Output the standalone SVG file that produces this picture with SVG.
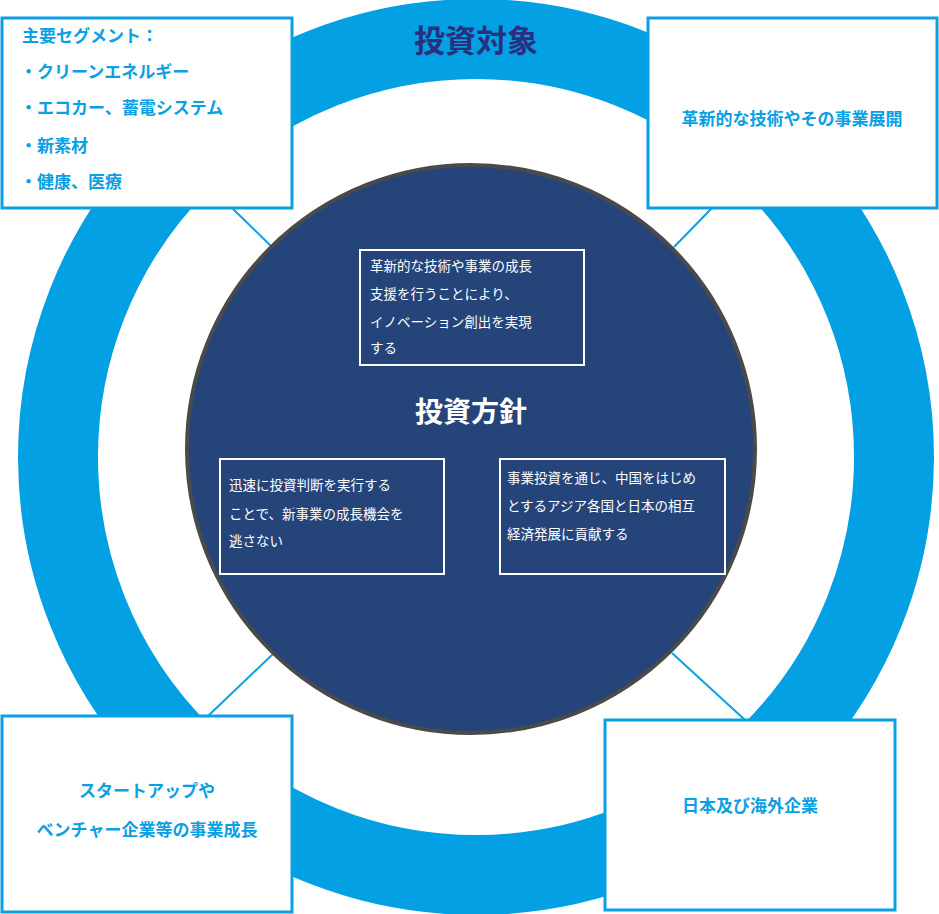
<svg xmlns="http://www.w3.org/2000/svg" width="939" height="914" viewBox="0 0 939 914">
<style>
.box{fill:#fff;stroke:#0aa0e3;stroke-width:3}
.ib{fill:none;stroke:#fff;stroke-width:2}
.bt{font-family:"Noto Sans CJK JP",sans-serif;font-size:17px;fill:#0aa0e3;font-weight:bold}
.it{font-family:"Noto Sans CJK JP",sans-serif;font-size:13.5px;fill:#fff}
.ln{stroke:#0aa0e3;stroke-width:2}
</style>
<rect width="939" height="914" fill="#fff"/>
<circle cx="476" cy="457" r="418" fill="none" stroke="#04a0e4" stroke-width="80"/>
<text x="476" y="52" text-anchor="middle" font-family="Noto Sans CJK JP,sans-serif" font-size="31" font-weight="bold" fill="#2a2f7f">投資対象</text>
<g id="connectors">
<line class="ln" x1="232" y1="208" x2="272" y2="247"/>
<line class="ln" x1="712" y1="208" x2="674" y2="247"/>
<line class="ln" x1="274" y1="653" x2="208" y2="716"/>
<line class="ln" x1="672" y1="653" x2="745" y2="720"/>
</g>
<g id="center">
<circle cx="471" cy="449" r="284" fill="#25457a" stroke="#4a4a4a" stroke-width="4"/>
<text x="471" y="422" text-anchor="middle" font-family="Noto Sans CJK JP,sans-serif" font-size="28" font-weight="bold" fill="#fff">投資方針</text>
</g>
<g id="p1"><rect class="ib" x="360" y="250" width="224" height="115"/>
<text class="it" x="370" y="271">革新的な技術や事業の成長</text>
<text class="it" x="370" y="299">支援を行うことにより、</text>
<text class="it" x="370" y="327">イノベーション創出を実現</text>
<text class="it" x="370" y="353">する</text></g>
<g id="p2"><rect class="ib" x="220" y="459" width="224" height="115"/>
<text class="it" x="229" y="490">迅速に投資判断を実行する</text>
<text class="it" x="229" y="519">ことで、新事業の成長機会を</text>
<text class="it" x="229" y="546">逃さない</text></g>
<g id="p3"><rect class="ib" x="500" y="459" width="225" height="115"/>
<text class="it" x="507" y="483">事業投資を通じ、中国をはじめ</text>
<text class="it" x="507" y="511">とするアジア各国と日本の相互</text>
<text class="it" x="507" y="539">経済発展に貢献する</text></g>
<g id="tl"><rect class="box" x="2" y="18" width="290" height="190"/>
<text class="bt" x="22" y="42">主要セグメント：</text>
<text class="bt" x="20" y="78">・クリーンエネルギー</text>
<text class="bt" x="20" y="114">・エコカー、蓄電システム</text>
<text class="bt" x="20" y="152">・新素材</text>
<text class="bt" x="20" y="188">・健康、医療</text></g>
<g id="tr"><rect class="box" x="648" y="18" width="289" height="190"/>
<text class="bt" x="792" y="125" text-anchor="middle">革新的な技術やその事業展開</text></g>
<g id="bl"><rect class="box" x="2" y="716" width="290" height="196"/>
<text class="bt" x="147" y="797" text-anchor="middle">スタートアップや</text>
<text class="bt" x="147" y="836" text-anchor="middle">ベンチャー企業等の事業成長</text></g>
<g id="br"><rect class="box" x="605" y="720" width="290" height="190"/>
<text class="bt" x="750" y="812" text-anchor="middle">日本及び海外企業</text></g>
</svg>
